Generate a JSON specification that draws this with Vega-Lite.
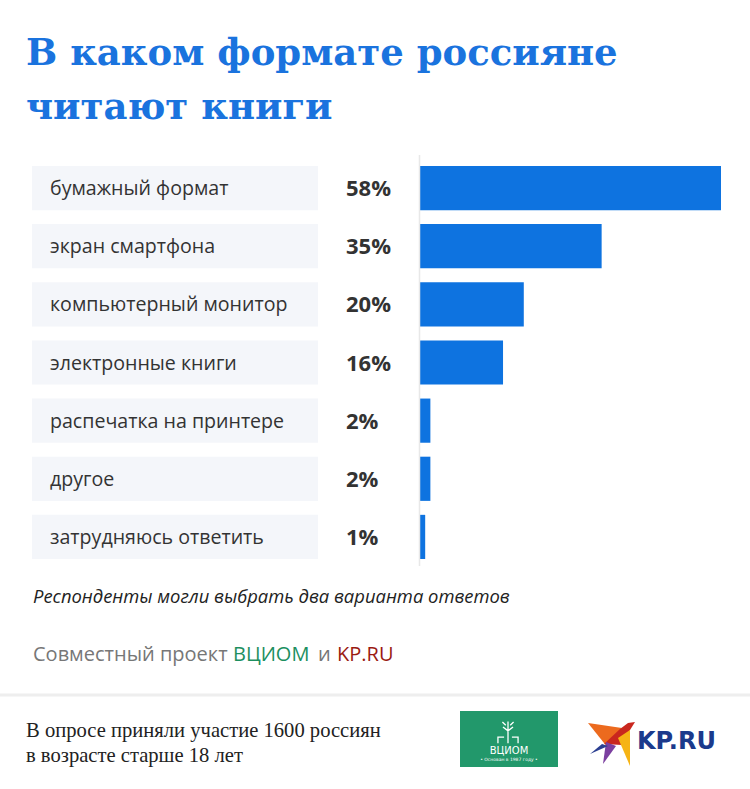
{
  "$schema": "https://vega.github.io/schema/vega-lite/v6.json",
  "width": 750,
  "height": 789,
  "padding": 0,
  "autosize": {"type": "none"},
  "background": "white",
  "config": {"view": {"stroke": null}},
  "resolve": {"scale": {"x": "independent", "y": "independent"}},
  "layer": [
    {
      "data": {"values": [
        {"format": "бумажный формат", "share": 0.58},
        {"format": "экран смартфона", "share": 0.35},
        {"format": "компьютерный монитор", "share": 0.20},
        {"format": "электронные книги", "share": 0.16},
        {"format": "распечатка на принтере", "share": 0.02},
        {"format": "другое", "share": 0.02},
        {"format": "затрудняюсь ответить", "share": 0.01}
      ]},
      "encoding": {
        "y": {"field": "format", "type": "nominal", "axis": null, "sort": null,
          "scale": {"domain": ["бумажный формат", "экран смартфона", "компьютерный монитор", "электронные книги", "распечатка на принтере", "другое", "затрудняюсь ответить"],
            "range": [159, 566], "paddingInner": 0.24, "paddingOuter": 0.12}}
      },
      "layer": [
        {"mark": {"type": "bar", "color": "#f4f6fa"},
         "encoding": {
           "x": {"datum": -0.74764, "type": "quantitative", "axis": null, "scale": {"domain": [-0.8093, 0.63588], "range": [0, 750], "nice": false, "zero": false}},
           "x2": {"datum": -0.19654}}},
        {"mark": {"type": "bar", "color": "#0e73e0"},
         "encoding": {
           "x": {"field": "share", "type": "quantitative", "axis": null, "scale": {"domain": [-0.8093, 0.63588], "range": [0, 750], "nice": false, "zero": false}}}},
        {"mark": {"type": "text", "align": "left", "baseline": "alphabetic", "dy": 7, "font": "Open Sans", "fontSize": 19.6, "color": "#333333"},
         "encoding": {
           "x": {"datum": -0.71296, "type": "quantitative", "axis": null, "scale": {"domain": [-0.8093, 0.63588], "range": [0, 750], "nice": false, "zero": false}},
           "text": {"field": "format"}}},
        {"mark": {"type": "text", "align": "left", "baseline": "alphabetic", "dy": 8, "font": "Open Sans", "fontSize": 22, "fontWeight": "bold", "color": "#333333"},
         "encoding": {
           "x": {"datum": -0.14259, "type": "quantitative", "axis": null, "scale": {"domain": [-0.8093, 0.63588], "range": [0, 750], "nice": false, "zero": false}},
           "text": {"field": "share", "type": "quantitative", "format": ".0%"}}}
      ]
    },
    {
      "layer": [
        {"data": {"values": [{"t": "В каком формате россияне"}]},
         "mark": {"type": "text", "align": "left", "baseline": "alphabetic", "font": "DejaVu Serif", "fontSize": 37, "fontWeight": "bold", "color": "#1a73de"},
         "encoding": {
           "x": {"datum": 26, "type": "quantitative", "axis": null, "scale": {"domain": [0, 750], "range": [0, 750], "nice": false, "zero": false}},
           "y": {"datum": 65, "type": "quantitative", "axis": null, "scale": {"domain": [0, 789], "range": [0, 789], "nice": false, "zero": false}},
           "text": {"field": "t"}}},
        {"data": {"values": [{"t": "читают книги"}]},
         "mark": {"type": "text", "align": "left", "baseline": "alphabetic", "font": "DejaVu Serif", "fontSize": 37, "fontWeight": "bold", "color": "#1a73de"},
         "encoding": {
           "x": {"datum": 26, "type": "quantitative", "axis": null, "scale": {"domain": [0, 750], "range": [0, 750], "nice": false, "zero": false}},
           "y": {"datum": 119, "type": "quantitative", "axis": null, "scale": {"domain": [0, 789], "range": [0, 789], "nice": false, "zero": false}},
           "text": {"field": "t"}}},
        {"data": {"values": [{"t": "line"}]},
         "mark": {"type": "rule", "color": "#e8e8e8", "strokeWidth": 1.5},
         "encoding": {
           "x": {"datum": 419.5, "type": "quantitative", "axis": null, "scale": {"domain": [0, 750], "range": [0, 750], "nice": false, "zero": false}},
           "y": {"datum": 155, "type": "quantitative", "axis": null, "scale": {"domain": [0, 789], "range": [0, 789], "nice": false, "zero": false}},
           "y2": {"datum": 566}}},
        {"data": {"values": [{"t": "Респонденты могли выбрать два варианта ответов"}]},
         "mark": {"type": "text", "align": "left", "baseline": "alphabetic", "font": "Open Sans", "fontSize": 18.4, "fontStyle": "italic", "color": "#222222"},
         "encoding": {
           "x": {"datum": 33, "type": "quantitative", "axis": null, "scale": {"domain": [0, 750], "range": [0, 750], "nice": false, "zero": false}},
           "y": {"datum": 603, "type": "quantitative", "axis": null, "scale": {"domain": [0, 789], "range": [0, 789], "nice": false, "zero": false}},
           "text": {"field": "t"}}},
        {"data": {"values": [{"t": "Совместный проект"}]},
         "mark": {"type": "text", "align": "left", "baseline": "alphabetic", "font": "Open Sans", "fontSize": 20, "color": "#777777"},
         "encoding": {
           "x": {"datum": 33, "type": "quantitative", "axis": null, "scale": {"domain": [0, 750], "range": [0, 750], "nice": false, "zero": false}},
           "y": {"datum": 661, "type": "quantitative", "axis": null, "scale": {"domain": [0, 789], "range": [0, 789], "nice": false, "zero": false}},
           "text": {"field": "t"}}},
        {"data": {"values": [{"t": "ВЦИОМ"}]},
         "mark": {"type": "text", "align": "left", "baseline": "alphabetic", "font": "Open Sans", "fontSize": 20, "color": "#1d8f5f"},
         "encoding": {
           "x": {"datum": 233, "type": "quantitative", "axis": null, "scale": {"domain": [0, 750], "range": [0, 750], "nice": false, "zero": false}},
           "y": {"datum": 661, "type": "quantitative", "axis": null, "scale": {"domain": [0, 789], "range": [0, 789], "nice": false, "zero": false}},
           "text": {"field": "t"}}},
        {"data": {"values": [{"t": "и"}]},
         "mark": {"type": "text", "align": "left", "baseline": "alphabetic", "font": "Open Sans", "fontSize": 20, "color": "#777777"},
         "encoding": {
           "x": {"datum": 318, "type": "quantitative", "axis": null, "scale": {"domain": [0, 750], "range": [0, 750], "nice": false, "zero": false}},
           "y": {"datum": 661, "type": "quantitative", "axis": null, "scale": {"domain": [0, 789], "range": [0, 789], "nice": false, "zero": false}},
           "text": {"field": "t"}}},
        {"data": {"values": [{"t": "KP.RU"}]},
         "mark": {"type": "text", "align": "left", "baseline": "alphabetic", "font": "Open Sans", "fontSize": 20, "color": "#9a1a12"},
         "encoding": {
           "x": {"datum": 337, "type": "quantitative", "axis": null, "scale": {"domain": [0, 750], "range": [0, 750], "nice": false, "zero": false}},
           "y": {"datum": 661, "type": "quantitative", "axis": null, "scale": {"domain": [0, 789], "range": [0, 789], "nice": false, "zero": false}},
           "text": {"field": "t"}}},
        {"data": {"values": [{"t": "separator"}]},
         "mark": {"type": "rule", "color": "#eeeeee", "strokeWidth": 3},
         "encoding": {
           "x": {"datum": 0, "type": "quantitative", "axis": null, "scale": {"domain": [0, 750], "range": [0, 750], "nice": false, "zero": false}},
           "x2": {"datum": 750},
           "y": {"datum": 695, "type": "quantitative", "axis": null, "scale": {"domain": [0, 789], "range": [0, 789], "nice": false, "zero": false}}}},
        {"data": {"values": [{"t": "В опросе приняли участие 1600 россиян"}]},
         "mark": {"type": "text", "align": "left", "baseline": "alphabetic", "font": "Liberation Serif", "fontSize": 20.6, "color": "#222222"},
         "encoding": {
           "x": {"datum": 26, "type": "quantitative", "axis": null, "scale": {"domain": [0, 750], "range": [0, 750], "nice": false, "zero": false}},
           "y": {"datum": 737, "type": "quantitative", "axis": null, "scale": {"domain": [0, 789], "range": [0, 789], "nice": false, "zero": false}},
           "text": {"field": "t"}}},
        {"data": {"values": [{"t": "в возрасте старше 18 лет"}]},
         "mark": {"type": "text", "align": "left", "baseline": "alphabetic", "font": "Liberation Serif", "fontSize": 20.6, "color": "#222222"},
         "encoding": {
           "x": {"datum": 26, "type": "quantitative", "axis": null, "scale": {"domain": [0, 750], "range": [0, 750], "nice": false, "zero": false}},
           "y": {"datum": 762, "type": "quantitative", "axis": null, "scale": {"domain": [0, 789], "range": [0, 789], "nice": false, "zero": false}},
           "text": {"field": "t"}}},
        {"data": {"values": [{"t": "ВЦИОМ logo"}]},
         "mark": {"type": "rect", "color": "#22986b"},
         "encoding": {
           "x": {"datum": 460, "type": "quantitative", "axis": null, "scale": {"domain": [0, 750], "range": [0, 750], "nice": false, "zero": false}},
           "x2": {"datum": 558},
           "y": {"datum": 711, "type": "quantitative", "axis": null, "scale": {"domain": [0, 789], "range": [0, 789], "nice": false, "zero": false}},
           "y2": {"datum": 767}}},
        {"data": {"values": [{"t": "tree"}]},
         "mark": {"type": "point", "shape": "M0,1 L0,-0.2 M-0.9,1 L-0.9,0.45 L-0.35,0.45 M0.9,1 L0.9,0.45 L0.35,0.45 M-0.45,-0.45 L0,-0.1 L0.45,-0.45 M0,-0.2 L0,-0.95 M-0.5,-0.9 L-0.2,-0.6 M0.5,-0.9 L0.2,-0.6", "size": 500, "filled": false, "stroke": "white", "strokeWidth": 1.3, "opacity": 1},
         "encoding": {
           "x": {"datum": 508, "type": "quantitative", "axis": null, "scale": {"domain": [0, 750], "range": [0, 750], "nice": false, "zero": false}},
           "y": {"datum": 732, "type": "quantitative", "axis": null, "scale": {"domain": [0, 789], "range": [0, 789], "nice": false, "zero": false}}}},
        {"data": {"values": [{"t": "ВЦИОМ"}]},
         "mark": {"type": "text", "align": "center", "baseline": "alphabetic", "font": "DejaVu Sans", "fontSize": 10, "letterSpacing": 1, "color": "white"},
         "encoding": {
           "x": {"datum": 509, "type": "quantitative", "axis": null, "scale": {"domain": [0, 750], "range": [0, 750], "nice": false, "zero": false}},
           "y": {"datum": 754, "type": "quantitative", "axis": null, "scale": {"domain": [0, 789], "range": [0, 789], "nice": false, "zero": false}},
           "text": {"field": "t"}}},
        {"data": {"values": [{"t": "• Основан в 1987 году •"}]},
         "mark": {"type": "text", "align": "center", "baseline": "alphabetic", "font": "DejaVu Sans", "fontSize": 4.5, "color": "white"},
         "encoding": {
           "x": {"datum": 509, "type": "quantitative", "axis": null, "scale": {"domain": [0, 750], "range": [0, 750], "nice": false, "zero": false}},
           "y": {"datum": 761, "type": "quantitative", "axis": null, "scale": {"domain": [0, 789], "range": [0, 789], "nice": false, "zero": false}},
           "text": {"field": "t"}}},
        {"data": {"values": [{"t": "wing"}]},
         "mark": {"type": "point", "shape": "M-0.96,-0.84 L0.4,-0.64 L-0.16,0.16 Z", "size": 2500, "filled": true, "color": "#ec6a1e", "opacity": 1},
         "encoding": {
           "x": {"datum": 612, "type": "quantitative", "axis": null, "scale": {"domain": [0, 750], "range": [0, 750], "nice": false, "zero": false}},
           "y": {"datum": 744, "type": "quantitative", "axis": null, "scale": {"domain": [0, 789], "range": [0, 789], "nice": false, "zero": false}}}},
        {"data": {"values": [{"t": "body"}]},
         "mark": {"type": "point", "shape": "M-0.32,0 L0.32,-0.6 L0.64,-0.84 L0.92,-0.88 L0.72,-0.56 L0.4,0.04 Z", "size": 2500, "filled": true, "color": "#c9271e", "opacity": 1},
         "encoding": {
           "x": {"datum": 612, "type": "quantitative", "axis": null, "scale": {"domain": [0, 750], "range": [0, 750], "nice": false, "zero": false}},
           "y": {"datum": 744, "type": "quantitative", "axis": null, "scale": {"domain": [0, 789], "range": [0, 789], "nice": false, "zero": false}}}},
        {"data": {"values": [{"t": "tail yellow"}]},
         "mark": {"type": "point", "shape": "M0.24,-0.24 L0.72,-0.56 L0.72,0.88 Z", "size": 2500, "filled": true, "color": "#f6b415", "opacity": 1},
         "encoding": {
           "x": {"datum": 612, "type": "quantitative", "axis": null, "scale": {"domain": [0, 750], "range": [0, 750], "nice": false, "zero": false}},
           "y": {"datum": 744, "type": "quantitative", "axis": null, "scale": {"domain": [0, 789], "range": [0, 789], "nice": false, "zero": false}}}},
        {"data": {"values": [{"t": "tail purple"}]},
         "mark": {"type": "point", "shape": "M-0.24,-0.08 L0.16,0.08 L-0.36,0.8 Z", "size": 2500, "filled": true, "color": "#7b3fa0", "opacity": 1},
         "encoding": {
           "x": {"datum": 612, "type": "quantitative", "axis": null, "scale": {"domain": [0, 750], "range": [0, 750], "nice": false, "zero": false}},
           "y": {"datum": 744, "type": "quantitative", "axis": null, "scale": {"domain": [0, 789], "range": [0, 789], "nice": false, "zero": false}}}},
        {"data": {"values": [{"t": "wing blue"}]},
         "mark": {"type": "point", "shape": "M-0.4,0 L-0.16,0.08 L-0.88,0.4 Z", "size": 2500, "filled": true, "color": "#2b3f91", "opacity": 1},
         "encoding": {
           "x": {"datum": 612, "type": "quantitative", "axis": null, "scale": {"domain": [0, 750], "range": [0, 750], "nice": false, "zero": false}},
           "y": {"datum": 744, "type": "quantitative", "axis": null, "scale": {"domain": [0, 789], "range": [0, 789], "nice": false, "zero": false}}}},
        {"data": {"values": [{"t": "KP.RU"}]},
         "mark": {"type": "text", "align": "left", "baseline": "alphabetic", "font": "DejaVu Sans", "fontSize": 24, "fontWeight": "bold", "color": "#1b3a8c"},
         "encoding": {
           "x": {"datum": 637, "type": "quantitative", "axis": null, "scale": {"domain": [0, 750], "range": [0, 750], "nice": false, "zero": false}},
           "y": {"datum": 749, "type": "quantitative", "axis": null, "scale": {"domain": [0, 789], "range": [0, 789], "nice": false, "zero": false}},
           "text": {"field": "t"}}}
      ]
    }
  ]
}
